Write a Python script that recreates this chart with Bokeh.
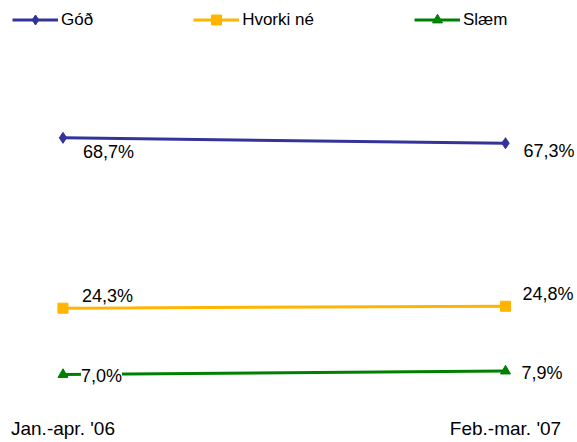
from bokeh.plotting import figure
from bokeh.models import ColumnDataSource, LabelSet, Range1d, FixedTicker
from bokeh.core.properties import value
from bokeh.embed import file_html
from bokeh.resources import INLINE

periods = ["Jan.-apr. '06", "Feb.-mar. '07"]
series_names = ["Góð", "Hvorki né", "Slæm"]
god = [68.7, 67.3]
hvorki = [24.3, 24.8]
slaem = [7.0, 7.9]

colors = ["#333399", "#FFB400", "#008000"]
markers = ["diamond", "square", "triangle"]
marker_sizes = [11, 10, 10]
# label offsets (screen px) for each point: (left, right)
x_offsets = [[20, 18], [19, 17], [18, 16]]
y_offsets = [[-14, -8], [12, 12], [-1, -2]]

FONT = "Liberation Sans"

p = figure(frame_width=577, frame_height=404, output_backend="svg",
           toolbar_location=None, x_range=Range1d(-0.1412, 1.1627),
           y_range=Range1d(-0.81, 104.5), y_axis_location=None,
           min_border=0, min_border_left=0, min_border_right=0,
           min_border_top=0, min_border_bottom=0)
p.outline_line_color = None
p.xgrid.visible = False
p.ygrid.visible = False
p.background_fill_color = "white"

xs = list(range(len(periods)))
for name, vals, col, mk, ms, xo, yo in zip(series_names, [god, hvorki, slaem], colors,
                                             markers, marker_sizes, x_offsets, y_offsets):
    labels = [f"{v:.1f}".replace(".", ",") + "%" for v in vals]
    src = ColumnDataSource(dict(x=xs, y=vals, label=labels, xo=xo, yo=yo))
    p.line("x", "y", source=src, line_color=col, line_width=3, legend_label=name)
    p.scatter("x", "y", source=src, marker=mk, size=ms, fill_color=col,
              line_color=col, legend_label=name)
    ls = LabelSet(x="x", y="y", text="label", source=src, x_offset="xo", y_offset="yo",
                  text_font=value(FONT), text_font_size="18px", text_color="#000000",
                  text_baseline="middle", text_align="left",
                  background_fill_color="white")
    p.add_layout(ls)

ax = p.xaxis[0]
ax.ticker = FixedTicker(ticks=xs)
ax.major_label_overrides = {i: t for i, t in enumerate(periods)}
ax.axis_line_color = None
ax.major_tick_line_color = None
ax.minor_tick_line_color = None
ax.major_tick_out = 0
ax.major_tick_in = 0
ax.major_label_standoff = 13
ax.major_label_text_font = FONT
ax.major_label_text_font_size = "19px"
ax.major_label_text_color = "#000000"

leg = p.legend[0]
leg.orientation = "horizontal"
leg.location = (12, 372)
leg.border_line_color = None
leg.background_fill_alpha = 0
leg.margin = 0
leg.padding = 0
leg.spacing = 100
leg.glyph_width = 46
leg.glyph_height = 25
leg.label_standoff = 3
leg.label_text_font = FONT
leg.label_text_font_size = "17px"
leg.label_text_color = "#000000"

open("out.html", "w").write(file_html(p, INLINE))
